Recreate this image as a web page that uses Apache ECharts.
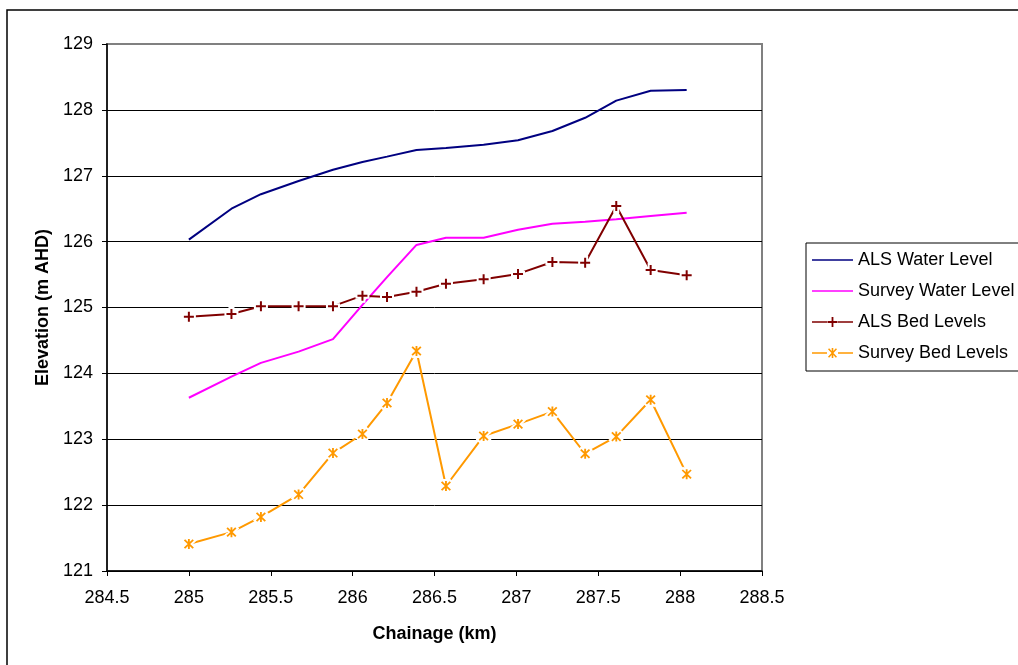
<!DOCTYPE html>
<html>
<head>
<meta charset="utf-8">
<script src="https://cdn.jsdelivr.net/npm/echarts@6/dist/echarts.min.js"></script>
<style>
  html, body { margin: 0; padding: 0; background: #fff; }
  #chart { width: 1018px; height: 665px; }
</style>
</head>
<body>
<div id="chart"></div>
<script>
// chainage (km) shared by all series
const chainage = [285.0, 285.26, 285.44, 285.67, 285.88, 286.06, 286.21, 286.39, 286.57, 286.80, 287.01, 287.22, 287.42, 287.61, 287.82, 288.04];

const alsWater = [126.03, 126.50, 126.72, 126.92, 127.09, 127.21, 127.29, 127.39, 127.42, 127.47, 127.54, 127.68, 127.88, 128.14, 128.29, 128.30];
const surveyWater = [123.63, 123.95, 124.16, 124.33, 124.52, 125.04, 125.46, 125.95, 126.06, 126.06, 126.18, 126.27, 126.30, 126.34, 126.39, 126.44];
const alsBed = [124.86, 124.90, 125.02, 125.02, 125.02, 125.18, 125.16, 125.24, 125.36, 125.43, 125.51, 125.69, 125.68, 126.54, 125.57, 125.49];
const surveyBed = [121.41, 121.59, 121.82, 122.16, 122.79, 123.08, 123.55, 124.34, 122.29, 123.05, 123.23, 123.42, 122.78, 123.04, 123.60, 122.47];

const seriesNames = ['ALS Water Level', 'Survey Water Level', 'ALS Bed Levels', 'Survey Bed Levels'];
const colors = ['#000080', '#ff00ff', '#800000', '#ff9900'];

const FONT = 'Liberation Sans, Arial, sans-serif';

// marker shapes (excel style "+" and star)
const plusPath = 'path://M-0.9,-4.5L0.9,-4.5L0.9,-0.9L4.5,-0.9L4.5,0.9L0.9,0.9L0.9,4.5L-0.9,4.5L-0.9,0.9L-4.5,0.9L-4.5,-0.9L-0.9,-0.9Z';
const starPath = 'path://M-0.8,-4.5L0.8,-4.5L0.8,4.5L-0.8,4.5Z' +
  'M-4.3,-3.2L-3.2,-4.3L4.3,3.2L3.2,4.3Z' +
  'M3.2,-4.3L4.3,-3.2L-3.2,4.3L-4.3,3.2Z';

// legend icons, drawn in a 41 x 14 box
const legendLine = 'path://M0,6.2L41,6.2L41,7.8L0,7.8Z';
const legendPlus = 'path://M0,6.2L15,6.2L15,7.8L0,7.8Z M26,6.2L41,6.2L41,7.8L26,7.8Z' +
  'M19.6,2L21.4,2L21.4,6.1L25.5,6.1L25.5,7.9L21.4,7.9L21.4,12L19.6,12L19.6,7.9L15.5,7.9L15.5,6.1L19.6,6.1Z';
const legendStar = 'path://M0,6.2L15,6.2L15,7.8L0,7.8Z M26,6.2L41,6.2L41,7.8L26,7.8Z' +
  'M19.7,2L21.3,2L21.3,12L19.7,12Z' +
  'M16,3.3L17.1,2.2L25,10.7L23.9,11.8Z' +
  'M23.9,2.2L25,3.3L17.1,11.8L16,10.7Z';

const pairs = (ys) => chainage.map((x, i) => [x, ys[i]]);

const lineSeries = (idx, ys) => ({
  name: seriesNames[idx],
  type: 'line',
  data: pairs(ys),
  symbol: 'none',
  color: colors[idx],
  lineStyle: { color: colors[idx], width: 2 },
  z: 2
});

// white mask under the markers so the line breaks around them
const maskSeries = (ys, sym) => ({
  name: 'mask',
  type: 'scatter',
  data: pairs(ys),
  symbol: sym,
  symbolSize: 10,
  itemStyle: { color: '#fff', borderColor: '#fff', borderWidth: 4, opacity: 1 },
  silent: true,
  z: 3
});

const markerSeries = (idx, ys, sym) => ({
  name: seriesNames[idx] + ' markers',
  type: 'scatter',
  data: pairs(ys),
  symbol: sym,
  symbolSize: 10,
  itemStyle: { color: colors[idx], opacity: 1 },
  silent: true,
  z: 4
});

const myChart = echarts.init(document.getElementById('chart'));

myChart.setOption({
  animation: false,
  backgroundColor: '#fff',
  textStyle: { fontFamily: FONT },
  graphic: [
    {
      type: 'rect',
      shape: { x: 7, y: 10, width: 1100, height: 700 },
      style: { fill: 'none', stroke: '#000', lineWidth: 1.5 },
      silent: true
    }
  ],
  grid: {
    left: 107,
    top: 44,
    right: 256,
    bottom: 94,
    show: true,
    borderColor: '#808080',
    borderWidth: 2
  },
  legend: {
    orient: 'vertical',
    left: 806,
    top: 243,
    padding: [8, 180, 9, 6],
    itemWidth: 41,
    itemHeight: 14,
    itemGap: 13,
    backgroundColor: '#fff',
    borderColor: '#000',
    borderWidth: 1,
    textStyle: { fontFamily: FONT, fontSize: 18, color: '#000' },
    data: [
      { name: seriesNames[0], icon: legendLine },
      { name: seriesNames[1], icon: legendLine },
      { name: seriesNames[2], icon: legendPlus },
      { name: seriesNames[3], icon: legendStar }
    ]
  },
  xAxis: {
    type: 'value',
    min: 284.5,
    max: 288.5,
    interval: 0.5,
    name: 'Chainage (km)',
    nameLocation: 'middle',
    nameGap: 54,
    nameTextStyle: { fontFamily: FONT, fontSize: 18, fontWeight: 'bold', color: '#000' },
    axisLine: { onZero: false, lineStyle: { color: '#000', width: 1.5 } },
    axisTick: { show: true, inside: false, length: 5, lineStyle: { color: '#000' } },
    axisLabel: { margin: 18, fontSize: 18, color: '#000', fontFamily: FONT },
    splitLine: { show: false }
  },
  yAxis: {
    type: 'value',
    min: 121,
    max: 129,
    interval: 1,
    name: 'Elevation (m AHD)',
    nameLocation: 'middle',
    nameGap: 55,
    nameTextStyle: { fontFamily: FONT, fontSize: 18, fontWeight: 'bold', color: '#000' },
    axisLine: { show: true, onZero: false, lineStyle: { color: '#000', width: 1.5 } },
    axisTick: { show: true, inside: false, length: 5, lineStyle: { color: '#000' } },
    axisLabel: { margin: 14, fontSize: 18, color: '#000', fontFamily: FONT },
    splitLine: {
      show: true,
      lineStyle: {
        color: ['#000', '#000', '#000', '#000', '#000', '#000', '#000', '#000', '#808080'],
        width: 1
      }
    }
  },
  series: [
    lineSeries(0, alsWater),
    lineSeries(1, surveyWater),
    lineSeries(2, alsBed),
    lineSeries(3, surveyBed),
    maskSeries(alsBed, plusPath),
    maskSeries(surveyBed, starPath),
    markerSeries(2, alsBed, plusPath),
    markerSeries(3, surveyBed, starPath)
  ]
});

window.addEventListener('resize', () => {
  myChart.resize();
});
</script>
</body>
</html>
